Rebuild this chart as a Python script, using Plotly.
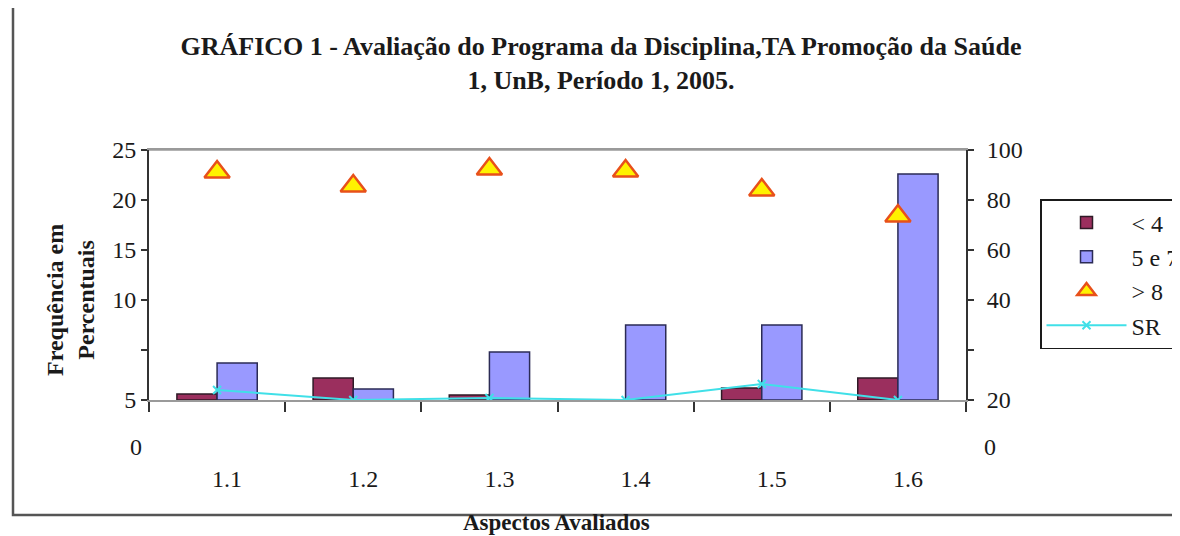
import plotly.graph_objects as go

categories = ["1.1", "1.2", "1.3", "1.4", "1.5", "1.6"]
menor4 = [0.6, 2.2, 0.5, 0.0, 1.2, 2.2]          # "< 4"  (left axis)
entre5e7 = [3.7, 1.1, 4.8, 7.5, 7.5, 22.6]       # "5 e 7" (left axis)
maior8 = [91.2, 85.6, 92.4, 91.6, 84.0, 73.6]    # "> 8"  (right axis)
sr = [1.0, 0.0, 0.2, 0.0, 1.6, 0.0]              # "SR"   (left axis)

left_tickvals = [0, 5, 10, 15, 20, 25]
left_ticktext = ["5", "", "10", "15", "20", "25"]
right_tickvals = [0, 20, 40, 60, 80, 100]
right_ticktext = ["20", "", "40", "60", "80", "100"]

FONT = "Liberation Serif"
TXT = "#1a1a1a"

fig = go.Figure()
fig.add_trace(go.Bar(
    x=categories, y=menor4, name="< 4",
    marker=dict(color="#9B2F5E", line=dict(color="#2E1A26", width=1.5)),
))
fig.add_trace(go.Bar(
    x=categories, y=entre5e7, name="5 e 7",
    marker=dict(color="#9999FF", line=dict(color="#2B2B55", width=1.5)),
))
fig.add_trace(go.Scatter(
    x=categories, y=maior8, name="> 8", mode="markers", yaxis="y2",
    marker=dict(symbol="triangle-up", size=22, color="#FFF200",
                line=dict(color="#E8501A", width=2.5)),
))
fig.add_trace(go.Scatter(
    x=categories, y=sr, name="SR", mode="lines+markers",
    line=dict(color="#40E0E8", width=2),
    marker=dict(symbol="x-thin", size=8, line=dict(color="#40E0E8", width=2)),
))

# page body has an 8px margin: window coords = figure coords + OFF
OFF = 8
W, H = 1180, 536
PL, PR, PT, PB = 149, 966, 150, 400   # plot area in window pixels
L, T = PL - OFF, PT - OFF
R = W - (PR - OFF)
B = H - (PB - OFF)
pw, ph = PR - PL, PB - PT

def px(x):
    return (x - PL) / pw

def py(y):
    return (PB - y) / ph

fig.update_layout(
    width=W, height=H,
    margin=dict(l=L, r=R, t=T, b=B, pad=0, autoexpand=False),
    paper_bgcolor="white", plot_bgcolor="white",
    font=dict(family=FONT, size=24, color=TXT),
    barmode="group", bargap=0.41, bargroupgap=0,
    showlegend=True,
    legend=dict(
        x=px(1040), y=py(199), xanchor="left", yanchor="top",
        bgcolor="white", bordercolor=TXT, borderwidth=1.5,
        font=dict(family=FONT, size=24, color=TXT),
        tracegroupgap=4, itemwidth=80,
    ),
    title=dict(
        text="<b>GRÁFICO 1 - Avaliação do Programa da Disciplina,TA Promoção da Saúde<br>1, UnB, Período 1, 2005.</b>",
        x=(601 - OFF) / W, xref="container", xanchor="center",
        y=1 - (55 - OFF) / H, yref="container", yanchor="middle",
        font=dict(family=FONT, size=26, color=TXT),
    ),
    xaxis=dict(
        type="category", showgrid=False,
        showline=True, linecolor="#9a9a9a", linewidth=1.5, mirror=True,
        ticks="outside", tickson="boundaries", ticklen=10, tickcolor="#333",
        tickwidth=1.5,
        ticklabelstandoff=56, ticklabelshift=10,
        tickfont=dict(family=FONT, size=24, color=TXT),
    ),
    yaxis=dict(
        range=[0, 25], showgrid=False, zeroline=False,
        showline=True, linecolor="#333", linewidth=2,
        tickvals=left_tickvals, ticktext=left_ticktext,
        ticks="outside", ticklen=6, tickcolor="#333", tickwidth=1.5,
        tickfont=dict(family=FONT, size=24, color=TXT),
    ),
    yaxis2=dict(
        range=[0, 100], overlaying="y", side="right", showgrid=False,
        zeroline=False, showline=True, linecolor="#333", linewidth=2,
        tickvals=right_tickvals, ticktext=right_ticktext,
        ticks="outside", ticklen=6, tickcolor="#333", tickwidth=1.5,
        ticklabelstandoff=8,
        tickfont=dict(family=FONT, size=24, color=TXT),
    ),
)

# top border of plot area (gray)
fig.add_shape(type="line", xref="paper", yref="paper", x0=0, x1=1, y0=1, y1=1,
              line=dict(color="#9a9a9a", width=1.5))

# outer chart frame
fig.add_shape(type="rect", xref="paper", yref="paper",
              x0=px(13), x1=px(1200), y0=py(515), y1=py(-10),
              line=dict(color="#555", width=2.5), layer="below")

annotations = [
    dict(text="0", x=px(136), y=py(447), xanchor="center", yanchor="middle"),
    dict(text="0", x=px(990), y=py(447), xanchor="center", yanchor="middle"),
    dict(text="<b>Frequência em<br>Percentuais</b>", x=px(70), y=py(300),
         xanchor="center", yanchor="middle", textangle=-90,
         font=dict(family=FONT, size=24, color=TXT)),
    dict(text="<b>Aspectos Avaliados</b>", x=px(556), y=py(537),
         xanchor="center", yanchor="bottom",
         font=dict(family=FONT, size=23, color=TXT)),
]
for a in annotations:
    a.setdefault("font", dict(family=FONT, size=24, color=TXT))
    fig.add_annotation(xref="paper", yref="paper", showarrow=False, **a)

fig.write_html("out.html")
